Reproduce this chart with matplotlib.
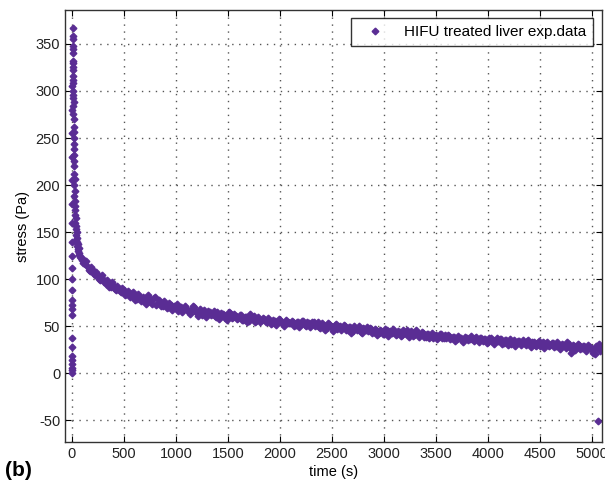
import matplotlib.pyplot as plt

plt.rcParams['font.family'] = ['Liberation Sans', 'DejaVu Sans']
plt.rcParams['axes.unicode_minus'] = False

# loading ramp (t ~ 0 s)
load_t = [0, 0, 0, 1, 1, 1, 1, 2, 2, 2, 3, 3, 3, 4, 4, 4, 5, 5, 5, 6, 6, 6, 7, 7, 8, 8]
load_y = [0, 3, 6, 10, 14, 18, 28, 38, 62, 68, 73, 78, 88, 100, 112, 125, 140, 160, 180, 205,
          230, 255, 280, 305, 330, 355]

# fast relaxation right after the peak
relax_t = [10, 11, 11, 12, 12, 13, 13, 14, 14, 15, 16, 17, 18, 19, 20, 22, 24, 26, 28, 30,
           33, 36, 40, 44, 48, 52, 57, 62, 68, 74, 80, 87, 94]
relax_y = [367, 348, 340, 332, 325, 316, 308, 300, 292, 284, 275, 262, 250, 238, 226, 212, 200,
           188, 178, 168, 160, 153, 147, 142, 138, 135, 132, 130, 128, 126, 124, 122, 120]
relax_t2 = [12, 13, 14, 15, 16, 17, 18, 20, 21, 23, 25, 27, 29, 32, 35, 38, 42, 46, 50, 55,
            60, 66]
relax_y2 = [358, 345, 322, 312, 296, 288, 270, 256, 244, 232, 220, 206, 194, 183, 173, 165,
            156, 150, 144, 140, 137, 133]

# slow relaxation, samples every 25 s from 100 s
slow_t = list(range(100, 5100, 25))
slow_y = [122, 116, 114, 109, 110, 104, 104, 99, 100, 95,
          96, 92, 94, 89, 90, 86, 88, 84, 85, 82,
          83, 79, 82, 78, 80, 76, 79, 74, 81, 75,
          76, 72, 74, 70, 73, 69, 71, 66, 70, 68,
          69, 65, 67, 70, 64, 66, 62, 67, 63, 65,
          63, 61, 65, 60, 63, 59, 62, 64, 60, 61,
          59, 62, 57, 60, 56, 59, 61, 56, 58, 57,
          58, 55, 57, 53, 56, 54, 57, 52, 55, 54,
          53, 55, 51, 54, 52, 56, 50, 53, 52, 54,
          51, 49, 53, 50, 48, 52, 49, 51, 47, 50,
          48, 50, 46, 49, 45, 48, 47, 44, 48, 46,
          45, 47, 44, 46, 43, 45, 42, 46, 44, 43,
          45, 42, 44, 41, 43, 46, 42, 40, 44, 42,
          41, 43, 39, 42, 40, 38, 41, 39, 42, 38,
          38, 40, 37, 39, 36, 38, 35, 39, 37, 36,
          36, 38, 35, 37, 34, 36, 33, 37, 35, 34,
          34, 36, 32, 35, 33, 31, 35, 33, 34, 32,
          32, 34, 31, 33, 30, 32, 29, 33, 31, 30,
          30, 32, 29, 31, 28, 30, 27, 31, 22, 29,
          28, 30, 27, 29, 26, 28, 25, 20, 27, 24]

# interleaved samples (offset 12 s)
slow_t2 = list(range(112, 5100, 25))
slow_y2 = [117, 119, 110, 113, 105, 108, 100, 104, 97, 99,
           92, 97, 90, 93, 87, 91, 83, 87, 81, 86,
           78, 84, 77, 81, 74, 83, 77, 80, 73, 78,
           71, 77, 69, 75, 67, 72, 74, 68, 65, 71,
           67, 63, 71, 66, 61, 68, 65, 60, 66, 62,
           66, 60, 58, 64, 62, 57, 65, 59, 63, 58,
           62, 57, 60, 55, 63, 58, 54, 60, 55, 59,
           55, 59, 52, 57, 51, 58, 55, 50, 57, 53,
           56, 50, 54, 49, 56, 51, 55, 49, 55, 50,
           54, 48, 51, 46, 53, 49, 45, 52, 50, 46,
           51, 46, 49, 43, 50, 46, 50, 43, 47, 49,
           48, 43, 47, 41, 46, 42, 47, 40, 45, 47,
           41, 45, 40, 46, 42, 39, 45, 41, 46, 39,
           44, 39, 42, 37, 43, 40, 36, 42, 38, 41,
           41, 36, 39, 34, 40, 37, 33, 38, 35, 40,
           34, 39, 33, 38, 36, 32, 38, 34, 31, 37,
           36, 31, 35, 30, 36, 33, 29, 34, 30, 35,
           30, 35, 28, 33, 29, 34, 31, 27, 33, 29,
           32, 28, 33, 26, 31, 29, 33, 27, 30, 25,
           31, 26, 29, 24, 30, 27, 22, 29, 31, 26]

# outlier at the end of the record
out_t = [5060]
out_y = [-51]

t = load_t + relax_t + relax_t2 + slow_t + slow_t2 + out_t
y = load_y + relax_y + relax_y2 + slow_y + slow_y2 + out_y

purple = '#5a2d94'

fig = plt.figure(figsize=(6.05, 4.88), dpi=100)
ax = fig.add_axes([65 / 605, 46 / 488, 537 / 605, 432 / 488])

ax.plot(t, y, linestyle='none', marker='D', markersize=3.4, color=purple,
        markeredgecolor=purple, label='HIFU treated liver exp.data')

ax.set_xlim(-65, 5095)
ax.set_ylim(-73, 386)
ax.set_xticks(range(0, 5001, 500))
ax.set_yticks(range(-50, 351, 50))
ax.grid(True, linestyle=(0, (1, 4)), color='#555555', linewidth=1.0)
ax.tick_params(direction='in', top=True, right=True, length=4, labelsize=10.5,
               labelcolor='#222222')
for s in ax.spines.values():
    s.set_linewidth(1.0)
    s.set_color('#333333')

ax.set_xlabel('time (s)', fontsize=10.5, labelpad=3)
ax.set_ylabel('stress (Pa)', fontsize=10.5, labelpad=4)

leg = ax.legend(loc='upper right', bbox_to_anchor=(593 / 605, 1 - 18 / 488),
                bbox_transform=fig.transFigure, borderaxespad=0, fancybox=False,
                edgecolor='black', fontsize=11, handlelength=2.2,
                handletextpad=0.8, borderpad=0.45)
leg.get_frame().set_linewidth(1.0)

fig.text(0.008, 0.025, '(b)', fontsize=15, fontweight='bold')

fig.savefig('out.png', dpi=100, facecolor='white')
